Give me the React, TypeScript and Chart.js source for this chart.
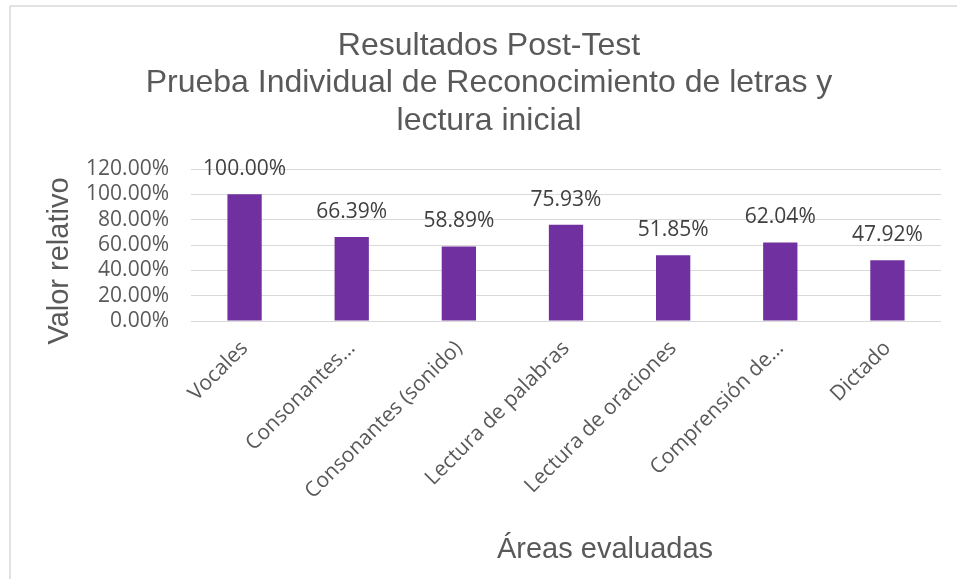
import React, { useEffect, useRef } from 'react';
import { Chart, registerables } from 'chart.js';
Chart.register(...registerables);

const categories = [
  'Vocales',
  'Consonantes…',
  'Consonantes (sonido)',
  'Lectura de palabras',
  'Lectura de oraciones',
  'Comprensión de…',
  'Dictado',
];
const values = [1.0, 0.6639, 0.5889, 0.7593, 0.5185, 0.6204, 0.4792];
const titleLines = [
  'Resultados Post-Test',
  'Prueba Individual de Reconocimiento de letras y',
  'lectura inicial',
];
const yTitle = 'Valor relativo';
const xTitle = 'Áreas evaluadas';

const pct = (v: number) => (v * 100).toFixed(2) + '%';

const decor = {
  id: 'decor',
  beforeDraw(chart: any) {
    const ctx = chart.ctx;
    ctx.save();
    ctx.fillStyle = '#ffffff';
    ctx.fillRect(0, 0, chart.width, chart.height);
    ctx.strokeStyle = '#d9d9d9';
    ctx.lineWidth = 1.5;
    ctx.strokeRect(10, 6, chart.width + 10, chart.height + 10);
    ctx.restore();
  },
  afterDatasetsDraw(chart: any) {
    const ctx = chart.ctx;
    const meta = chart.getDatasetMeta(0);
    ctx.save();
    ctx.font = '21px "Open Sans"';
    ctx.fillStyle = '#404040';
    ctx.textAlign = 'center';
    ctx.textBaseline = 'middle';
    meta.data.forEach((bar: any, i: number) => {
      ctx.fillText(pct(values[i]), bar.x, bar.y - 25);
    });
    ctx.restore();
  },
  afterDraw(chart: any) {
    const ctx = chart.ctx;
    ctx.save();
    ctx.fillStyle = '#595959';
    ctx.textAlign = 'center';
    ctx.textBaseline = 'middle';
    ctx.font = '32px "Liberation Sans"';
    titleLines.forEach((t, i) => ctx.fillText(t, 489, 46 + i * 37.5));
    ctx.font = '29px "Liberation Sans"';
    ctx.fillText(xTitle, 605, 550);
    ctx.translate(60, 261);
    ctx.rotate(-Math.PI / 2);
    ctx.font = '29px "Liberation Sans"';
    ctx.fillText(yTitle, 0, 0);
    ctx.restore();
  },
};

export default function App() {
  const ref = useRef<HTMLCanvasElement>(null);
  useEffect(() => {
    const chart = new Chart(ref.current!, {
      type: 'bar',
      data: {
        labels: categories,
        datasets: [
          {
            data: values,
            backgroundColor: '#7030A0',
            barPercentage: 0.32,
            categoryPercentage: 1,
          },
        ],
      },
      options: {
        animation: false,
        responsive: false,
        devicePixelRatio: 1,
        layout: { padding: { left: 0, right: 16, top: 169, bottom: 0 } },
        plugins: { legend: { display: false }, title: { display: false }, tooltip: { enabled: false } },
        scales: {
          x: {
            grid: { display: false, drawTicks: false },
            border: { display: false },
            ticks: {
              minRotation: 45,
              maxRotation: 45,
              autoSkip: false,
              padding: 15,
              color: '#595959',
              font: { family: 'Open Sans', size: 21 },
            },
            afterFit(scale: any) {
              scale.height = 579 - 321;
            },
          },
          y: {
            min: 0,
            max: 1.2,
            grid: { color: '#d9d9d9', drawTicks: false },
            border: { display: false },
            ticks: {
              stepSize: 0.2,
              autoSkip: false,
              padding: 22,
              color: '#595959',
              font: { family: 'Open Sans', size: 21 },
              callback: (v: any) => pct(Number(v)),
            },
            afterFit(scale: any) {
              scale.width = 191;
            },
          },
        },
      },
      plugins: [decor],
    } as any);
    return () => chart.destroy();
  }, []);
  return (
    <div style={{ position: 'fixed', left: 0, top: 0, width: 957, height: 579 }}>
      <canvas ref={ref} width={957} height={579} style={{ display: 'block' }} />
    </div>
  );
}
